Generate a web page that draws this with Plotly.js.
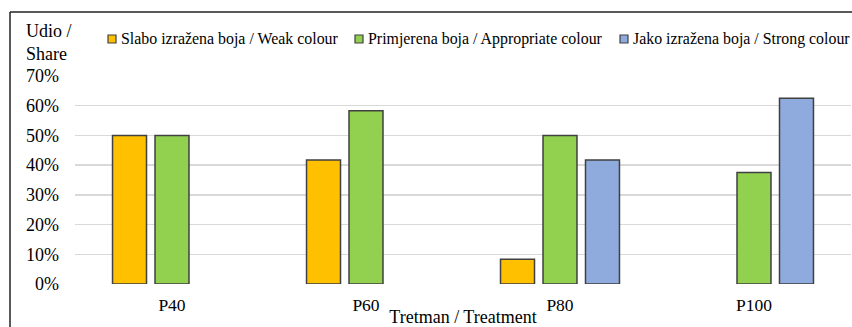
<!DOCTYPE html>
<html><head><meta charset="utf-8">
<script src="https://cdn.plot.ly/plotly-3.0.1.min.js"></script>
<style>html,body{margin:0;padding:0;background:#fff}#c{width:852px;height:327px}</style>
</head><body><div id="c"></div>
<script>
const categories = ["P40", "P60", "P80", "P100"];
const weak = [50, 41.7, 8.3, null];
const appropriate = [50, 58.3, 50, 37.5];
const strong = [null, null, 41.7, 62.5];
const seriesNames = ["Slabo izražena boja / Weak colour", "Primjerena boja / Appropriate colour", "Jako izražena boja / Strong colour"];
const seriesColors = ["#FFC000", "#92D050", "#8FAADC"];
const tickVals = [0, 10, 20, 30, 40, 50, 60, 70];
const tickText = ["0%", "10%", "20%", "30%", "40%", "50%", "60%", "70%"];

const font = "Liberation Serif, Times New Roman, serif";
const vals = [weak, appropriate, strong];
const traces = vals.map((v, i) => ({
  type: "bar", x: categories, y: v, name: seriesNames[i], showlegend: false,
  marker: {color: seriesColors[i], line: {color: "#404040", width: 1.5}}
}));

const L = 75, R = 851, T = 76, B = 284, W = 852, H = 327;
const pw = R - L, ph = B - T;
const px = x => (x - L) / pw, py = y => (B - y) / ph;

// legend layout (pixel positions of each entry's text start)
const legendTextX = [119, 366, 631];
const legendY = 39;
const annotations = [{text: "Udio /<br>Share", xref: "paper", yref: "paper", x: px(24), y: py(43),
    xanchor: "left", yanchor: "middle", align: "left", showarrow: false,
    font: {family: font, size: 18, color: "#000"}}];
const shapes = [
  {type: "line", xref: "paper", yref: "paper", x0: px(10), x1: px(852), y0: py(12), y1: py(12), line: {color: "#222", width: 1.5}},
  {type: "line", xref: "paper", yref: "paper", x0: px(10), x1: px(10), y0: py(12), y1: py(330), line: {color: "#222", width: 1.5}}
];
seriesNames.forEach((n, i) => {
  annotations.push({text: n, xref: "paper", yref: "paper", x: px(legendTextX[i]), y: py(legendY),
    xanchor: "left", yanchor: "middle", showarrow: false, font: {family: font, size: 15.9, color: "#000"}});
  shapes.push({type: "rect", xref: "paper", yref: "paper",
    x0: px(legendTextX[i] - 11), x1: px(legendTextX[i] - 3), y0: py(legendY - 4), y1: py(legendY + 4),
    fillcolor: seriesColors[i], line: {color: "#404040", width: 1.2}});
});

const layout = {
  width: W, height: H,
  margin: {l: L, r: W - R, t: T, b: H - B, pad: 0},
  paper_bgcolor: "#fff", plot_bgcolor: "#fff",
  font: {family: font, size: 16, color: "#000"},
  barmode: "group", bargap: 0.343, bargroupgap: 0.2,
  showlegend: false,
  xaxis: {type: "category", showgrid: false, zeroline: false, showline: false, ticks: "",
    tickfont: {family: font, size: 17.5}, ticklabelstandoff: 8,
    title: {text: "Tretman / Treatment", font: {family: font, size: 18}, standoff: 2}},
  yaxis: {range: [0, 70], tickvals: tickVals, ticktext: tickText, showgrid: true, gridcolor: "#d9d9d9",
    gridwidth: 1.5, zeroline: false, showline: false, ticks: "", tickfont: {family: font, size: 18},
    ticklabelstandoff: 15},
  annotations: annotations,
  shapes: shapes
};
Plotly.newPlot("c", traces, layout, {displayModeBar: false, staticPlot: true});
</script></body></html>
